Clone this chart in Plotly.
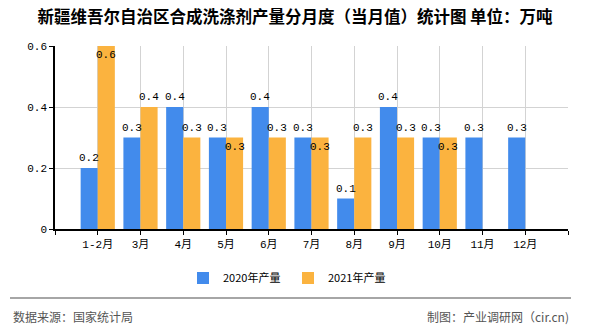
import plotly.graph_objects as go

# ---- data ----
months = ["1-2月", "3月", "4月", "5月", "6月", "7月", "8月", "9月", "10月", "11月", "12月"]
prod_2020 = [0.2, 0.3, 0.4, 0.3, 0.4, 0.3, 0.1, 0.4, 0.3, 0.3, 0.3]
prod_2021 = [0.6, 0.4, 0.3, 0.3, 0.3, 0.3, 0.3, 0.3, 0.3, None, None]
series_names = ["2020年产量", "2021年产量"]
y_ticks = [0, 0.2, 0.4, 0.6]
y_tick_labels = ["0", "0.2", "0.4", "0.6"]

title_text = "新疆维吾尔自治区合成洗涤剂产量分月度（当月值）统计图 单位：万吨"
source_text = "数据来源：国家统计局"
maker_text = "制图：产业调研网（cir.cn)"

# ---- style ----
W, H = 590, 330
L, R, T, B = 55, 568, 46, 229
BLUE = "#428BEC"
ORANGE = "#FBB33F"
GRID = "#D3D3D3"
MONO = "Liberation Mono, Noto Sans CJK SC, monospace"
CJK = "Noto Sans CJK SC, sans-serif"
BAR_W = 0.4
y_max = max(y_ticks)


def px_x(x):
    return (x - L) / (R - L)


def px_y(y):
    return (B - y) / (B - T)


idx = list(range(len(months)))

fig = go.Figure()
fig.add_trace(go.Bar(x=idx, y=prod_2020, name=series_names[0], marker=dict(color=BLUE, line=dict(width=0)),
                     width=BAR_W, offset=-BAR_W))
fig.add_trace(go.Bar(x=idx, y=prod_2021, name=series_names[1], marker=dict(color=ORANGE, line=dict(width=0)),
                     width=BAR_W, offset=0))

annotations = []
for i, v in enumerate(prod_2020):
    annotations.append(dict(x=i - BAR_W / 2, y=v, xref="x", yref="y", text=f"{v:g}", showarrow=False,
                            yanchor="bottom", yshift=2, font=dict(family=MONO, size=11, color="#000")))
for i, v in enumerate(prod_2021):
    if v is None:
        continue
    inside = v >= y_max or v == prod_2020[i]
    annotations.append(dict(x=i + BAR_W / 2, y=v, xref="x", yref="y", text=f"{v:g}", showarrow=False,
                            yanchor="top" if inside else "bottom", yshift=-1 if inside else 2,
                            font=dict(family=MONO, size=11, color="#000")))

annotations.append(dict(x=px_x(11), y=px_y(316), xref="paper", yref="paper", text=source_text,
                        showarrow=False, xanchor="left", yanchor="middle",
                        font=dict(family=CJK, size=12, color="#555")))
annotations.append(dict(x=px_x(571), y=px_y(316), xref="paper", yref="paper", text=maker_text,
                        showarrow=False, xanchor="right", yanchor="middle",
                        font=dict(family=CJK, size=12, color="#555")))

shapes = [dict(type="line", xref="paper", yref="paper", x0=px_x(10), x1=px_x(571),
               y0=px_y(298), y1=px_y(298), line=dict(color="#888", width=1.5))]

fig.update_layout(
    width=W, height=H,
    margin=dict(l=L, r=W - R, t=T, b=H - B, pad=0),
    paper_bgcolor="white", plot_bgcolor="white",
    barmode="overlay",
    title=dict(text="<b>" + title_text + "</b>", x=0.5, xanchor="center", y=1 - 17 / H, yanchor="middle",
               font=dict(family=CJK, size=16.5, color="#000")),
    showlegend=True,
    legend=dict(orientation="h", x=px_x(183), xanchor="left", y=px_y(278), yanchor="middle",
                entrywidth=60, entrywidthmode="pixels", itemwidth=30,
                font=dict(family=CJK, size=11, color="#000"), bgcolor="rgba(0,0,0,0)",
                tracegroupgap=0),
    annotations=annotations,
    shapes=shapes,
    xaxis=dict(range=[-1, len(months)], tickmode="array", tickvals=list(range(-1, len(months) + 1)),
               ticktext=[""] + months + [""], showgrid=True, gridcolor=GRID, gridwidth=1,
               showline=True, linecolor="#000", linewidth=1.5, ticks="outside", ticklen=4,
               tickcolor="#000", tickfont=dict(family=MONO, size=11, color="#000"), zeroline=False,
               fixedrange=True),
    yaxis=dict(range=[0, y_max], tickmode="array", tickvals=y_ticks, ticktext=y_tick_labels,
               showgrid=True, gridcolor=GRID, gridwidth=1, showline=True, linecolor="#000", linewidth=1.5,
               ticks="outside", ticklen=4, tickcolor="#000", tickfont=dict(family=MONO, size=11, color="#000"),
               zeroline=False, fixedrange=True),
)

fig.write_html("out.html", config=dict(displayModeBar=False))
